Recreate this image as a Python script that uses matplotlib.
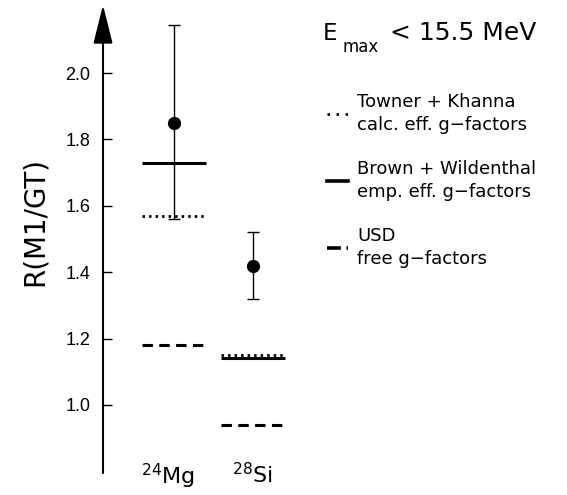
import matplotlib
matplotlib.use("Agg")
import matplotlib.pyplot as plt
from matplotlib.lines import Line2D

plt.rcParams['font.family'] = ['DejaVu Sans']
plt.rcParams['mathtext.fontset'] = 'dejavusans'
plt.rcParams['mathtext.default'] = 'regular'
plt.rcParams['lines.scale_dashes'] = False

# ---------------- data ----------------
nuclei = ["$^{24}$Mg", "$^{28}$Si"]
measured = [1.85, 1.42]
err_low = [0.29, 0.10]
err_high = [0.295, 0.10]
towner_khanna = [1.57, 1.15]     # dotted
brown_wildenthal = [1.73, 1.14]  # solid
usd_free = [1.18, 0.94]          # dashed
yticks = [1.0, 1.2, 1.4, 1.6, 1.8, 2.0]
ytick_labels = ["1.0", "1.2", "1.4", "1.6", "1.8", "2.0"]

W, H = 567, 495
fig = plt.figure(figsize=(W / 100, H / 100), dpi=100)
ax = fig.add_axes([103 / W, (H - 473) / H, (W - 103) / W, 468 / H])
ax.set_xlim(-0.9, 4.97)
ax.set_ylim(0.795, 2.205)

x = list(range(len(nuclei)))
hw = 0.405

dotted = (0, (1.8, 2.9))
dashed = (0, (7.5, 4.6))

ax.hlines(brown_wildenthal, [xi - hw for xi in x], [xi + hw for xi in x],
          colors='black', linewidth=2.2, linestyles='solid')
ax.hlines(towner_khanna, [xi - hw for xi in x], [xi + hw for xi in x],
          colors='black', linewidth=2.0, linestyles=[dotted])
ax.hlines(usd_free, [xi - hw for xi in x], [xi + hw for xi in x],
          colors='black', linewidth=2.2, linestyles=[dashed])

ax.errorbar(x, measured, yerr=[err_low, err_high], fmt='o', color='black',
            ms=8.5, elinewidth=1.0, capsize=4.3, capthick=1.0, zorder=5)

# axes styling
for s in ['left', 'right', 'top', 'bottom']:
    ax.spines[s].set_visible(False)
ax.annotate('', xy=(0, 1), xycoords='axes fraction', xytext=(0, 0),
            textcoords='axes fraction',
            arrowprops=dict(arrowstyle='-|>,head_length=1.2,head_width=0.3',
                            mutation_scale=20, lw=1.5, color='black',
                            shrinkA=0, shrinkB=0))
ax.set_yticks(yticks, ytick_labels)
ax.tick_params(axis='y', direction='in', length=6.5, width=1.0, pad=9,
               labelsize=13, labelfontfamily='Liberation Sans')
ax.set_xticks(x, nuclei)
ax.tick_params(axis='x', length=0, labelsize=16, pad=-8)
for lab, dx in zip(ax.get_xticklabels(), [-6, -1]):
    lab.set_x(lab.get_position()[0])
# small horizontal nudge of the category labels (as in the reference)
import matplotlib.transforms as mtransforms
for lab, dx in zip(ax.get_xticklabels(), [-6, -1]):
    lab.set_transform(lab.get_transform() +
                      mtransforms.ScaledTranslation(dx / 100, 0, fig.dpi_scale_trans))

ax.set_ylabel('R(M1/GT)', fontsize=20, va='center')
ax.yaxis.set_label_coords(-(103 - 35) / 464, (473 - 222) / 468)

# E_max header
fig.text(323 / W, 1 - 39.5 / H, 'E', fontsize=16.5, ha='left', va='baseline')
fig.text(343 / W, 1 - 52 / H, 'max', fontsize=12, ha='left', va='baseline')
fig.text(390 / W, 1 - 39.5 / H, '< 15.5 MeV', fontsize=18, ha='left', va='baseline')

# legend
handles = [
    Line2D([], [], color='black', lw=2.0, linestyle=(0, (1.8, 4.7))),
    Line2D([], [], color='black', lw=2.6, linestyle='solid'),
    Line2D([], [], color='black', lw=2.6, linestyle=(0, (10, 4.0))),
]
labels = ['Towner + Khanna\ncalc. eff. g\u2212factors',
          'Brown + Wildenthal\nemp. eff. g\u2212factors',
          'USD\nfree g\u2212factors']
leg = fig.legend(handles, labels, loc='upper left',
                 bbox_to_anchor=(327 / W, 1 - 93 / H), frameon=False,
                 fontsize=13, handlelength=1.17, handletextpad=0.5,
                 labelspacing=1.45, borderpad=0, borderaxespad=0)
for t in leg.get_texts():
    t.set_linespacing(1.35)

fig.savefig('out.png', dpi=100, facecolor='white')
